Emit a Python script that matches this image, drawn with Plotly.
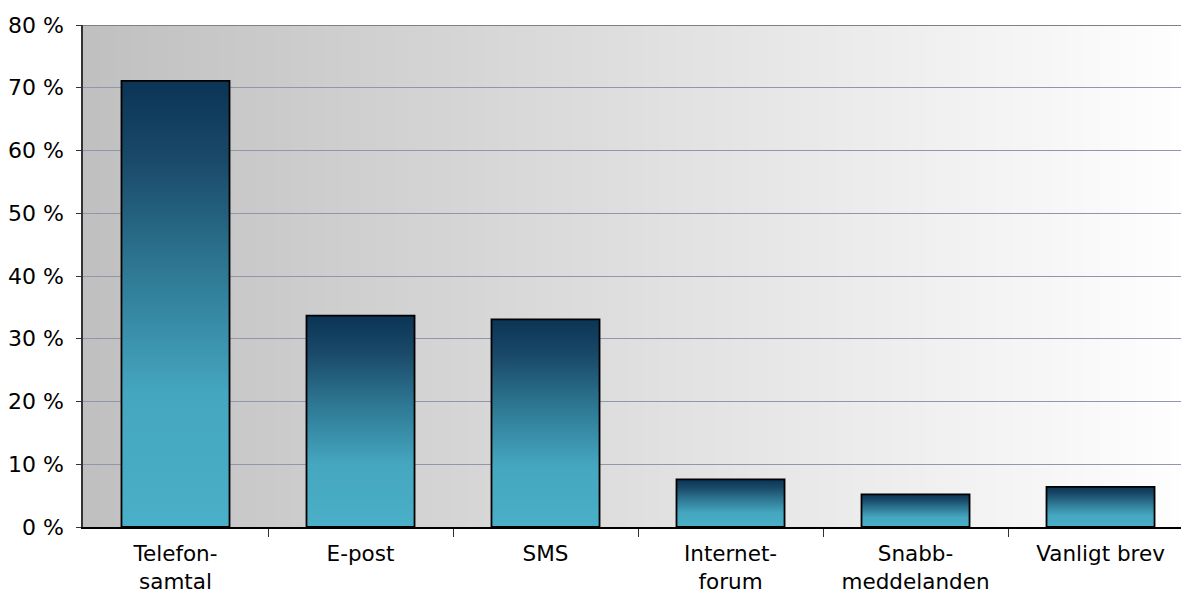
import base64
import struct
import zlib

import plotly.graph_objects as go

# Data
categories = ["Telefon-<br>samtal", "E-post", "SMS", "Internet-<br>forum",
              "Snabb-<br>meddelanden", "Vanligt brev"]
values = [71.1, 33.7, 33.1, 7.6, 5.2, 6.4]
y_ticks = [0, 10, 20, 30, 40, 50, 60, 70, 80]
y_labels = [f"{t} %" for t in y_ticks]


def gradient_png(c0, c1, width=256):
    """
    Tiny 1px high PNG with a horizontal gradient, used as plot background
    """
    row = b"\x00"
    for i in range(width):
        t = i / (width - 1)
        row += bytes(int(round(a + (b - a) * t)) for a, b in zip(c0, c1))

    def chunk(tag, data):
        c = struct.pack(">I", len(data)) + tag + data
        return c + struct.pack(">I", zlib.crc32(tag + data) & 0xffffffff)

    png = b"\x89PNG\r\n\x1a\n"
    png += chunk(b"IHDR", struct.pack(">IIBBBBB", width, 1, 8, 2, 0, 0, 0))
    png += chunk(b"IDAT", zlib.compress(row))
    png += chunk(b"IEND", b"")
    return "data:image/png;base64," + base64.b64encode(png).decode()


bar_width = 0.584
bar_colors = [[0, "#4aafc8"], [0.3, "#45a6bf"], [0.6, "#2c7490"],
              [0.82, "#1a4a69"], [1, "#0b3455"]]

fig = go.Figure()

for i, v in enumerate(values):
    x0, x1 = i - bar_width / 2, i + bar_width / 2
    fig.add_trace(go.Scatter(
        x=[x0, x0, x1, x1, x0],
        y=[0, v, v, 0, 0],
        mode="lines",
        fill="toself",
        fillgradient=dict(type="vertical", colorscale=bar_colors),
        line=dict(color="black", width=1.8),
        hoverinfo="skip",
        showlegend=False,
    ))

fig.update_layout(
    width=1181,
    height=593,
    margin=dict(l=83, r=0, t=25, b=66),
    paper_bgcolor="white",
    plot_bgcolor="rgba(0,0,0,0)",
    font=dict(family="DejaVu Sans, Verdana, sans-serif", size=22, color="black"),
    images=[dict(
        source=gradient_png((192, 192, 192), (254, 254, 254)),
        xref="paper", yref="paper", x=0, y=1, sizex=1, sizey=1,
        sizing="stretch", layer="below",
    )],
    shapes=[dict(type="line", xref="paper", yref="y", x0=0, x1=1, y0=80, y1=80,
                 line=dict(color="#808080", width=2))],
)

fig.update_xaxes(
    range=[-0.5, 5.435],
    tickvals=list(range(len(categories))),
    ticktext=categories,
    ticks="",
    tickfont=dict(size=21.5),
    showgrid=False,
    zeroline=False,
    showline=True,
    linecolor="black",
    linewidth=1.5,
    automargin=False,
    ticklabelstandoff=6,
    minor=dict(tickvals=[0.5, 1.5, 2.5, 3.5, 4.5], ticks="outside",
               ticklen=8, tickcolor="#333333", tickwidth=1, showgrid=False),
)

fig.update_yaxes(
    range=[0, 80],
    tickvals=y_ticks,
    ticktext=y_labels,
    ticks="outside",
    ticklen=5,
    tickcolor="#333333",
    showgrid=True,
    gridcolor="#9097a8",
    gridwidth=1,
    zeroline=False,
    showline=True,
    linecolor="#333333",
    linewidth=1.5,
    automargin=False,
    ticklabelstandoff=8,
)

# drop the default body margin so the figure fills the window exactly
fig.write_html("out.html",
               config=dict(displayModeBar=False),
               post_script="document.body.style.margin='0';"
                           "document.body.style.overflow='hidden';")
